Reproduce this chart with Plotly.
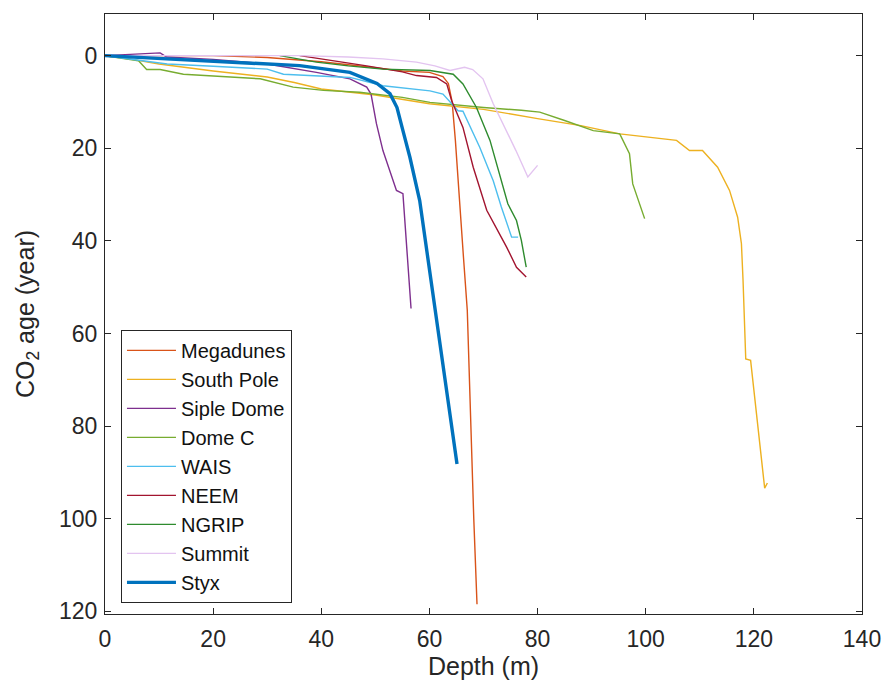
import plotly.graph_objects as go

# ---- data (depth m, CO2 age yr) ----
megadunes_depth = [0, 20, 30, 40, 50, 55, 60, 62.5, 63.5, 64.2, 64.8, 65.6, 66.3, 67.0, 67.5, 68.2, 68.8]
megadunes_age = [0, 0, 0.4, 1.3, 2.6, 3.3, 3.6, 4.5, 6.0, 10.0, 18.3, 32.8, 43.6, 55, 74.4, 100, 118.5]

southpole_depth = [0, 5, 10, 20, 30, 35, 40, 45, 50, 60, 70, 80, 88, 95.2, 105.7, 108.1, 110.5, 113.3, 115.5, 117.0, 117.7, 118.0, 118.5, 119.4, 122.0, 122.5]
southpole_age = [0, 0.8, 1.8, 3.3, 4.6, 5.8, 7.2, 7.8, 8.5, 10.4, 11.6, 13.6, 15.1, 16.9, 18.3, 20.5, 20.5, 24.1, 29.1, 34.9, 40.6, 48.5, 65.5, 65.8, 93.4, 92.3]

siple_depth = [0, 5, 10.2, 11.4, 20, 30, 39.1, 45.3, 48.4, 49.2, 50.2, 51.4, 53.9, 55.1, 55.6, 56.1, 56.6]
siple_age = [0, -0.3, -0.6, 0.3, 0.8, 1.8, 3.6, 5.0, 6.8, 8.3, 14.7, 20.5, 29.1, 29.8, 37.8, 45.0, 54.6]

domec_depth = [0, 6.2, 7.7, 10.2, 14.5, 28.7, 34.8, 40.4, 47.1, 55, 60.1, 70, 77, 80.4, 85, 88, 90.3, 95.2, 97.0, 97.6, 99.8]
domec_age = [0, 1.1, 3.0, 3.0, 4.0, 5.0, 6.8, 7.5, 7.9, 9.0, 10.1, 11.2, 11.8, 12.2, 14.0, 15.2, 16.2, 16.9, 21.2, 27.7, 35.2]

wais_depth = [0, 5, 11.5, 20, 30, 33, 45.3, 51.4, 60.1, 62.5, 65.3, 66.2, 69.3, 71.8, 73.3, 75.2, 76.4]
wais_age = [0, 0.8, 1.8, 2.3, 2.9, 4.0, 4.7, 6.5, 7.6, 8.3, 11.9, 12.0, 19.8, 27.0, 32.7, 39.2, 39.2]

neem_depth = [36, 42, 48.4, 55, 57.6, 61.3, 63.2, 64.1, 66.2, 68.1, 70.6, 74.3, 76.1, 77.9]
neem_age = [0, 1.0, 2.2, 3.5, 4.3, 4.7, 6.1, 9.7, 15.5, 24.1, 33.4, 41.4, 45.7, 47.8]

ngrip_depth = [32.3, 39.1, 45, 51.4, 60.1, 64.4, 66.2, 68.7, 71.2, 73.0, 74.5, 76.1, 77.0, 77.9]
ngrip_age = [0, 1.4, 2.2, 2.9, 3.2, 4.0, 6.1, 11.2, 18.3, 25.5, 32.0, 35.6, 39.9, 45.7]

summit_depth = [0, 20, 36, 45, 51.4, 57.6, 61, 63.8, 66.5, 68, 69.9, 71.8, 74.3, 76, 78.2, 80.0]
summit_age = [0, 0, 0, 0.3, 0.7, 1.4, 2.2, 3.2, 2.5, 3.0, 5.0, 10.4, 16.2, 20.5, 26.2, 23.7]

styx_depth = [0, 11.5, 23.7, 26.8, 36.0, 45.3, 50.3, 52.7, 54.0, 55.1, 56.4, 58.2, 63.4, 65.1]
styx_age = [0, 0.7, 1.45, 1.66, 2.16, 3.6, 6.0, 8.2, 11.2, 16.2, 22.0, 31.3, 74.4, 88.2]

x_ticks = [0, 20, 40, 60, 80, 100, 120, 140]
y_ticks = [0, 20, 40, 60, 80, 100, 120]

series = [
    ("Megadunes", megadunes_depth, megadunes_age, "#D95319", 1.4),
    ("South Pole", southpole_depth, southpole_age, "#EDB120", 1.4),
    ("Siple Dome", siple_depth, siple_age, "#7E2F8E", 1.4),
    ("Dome C", domec_depth, domec_age, "#77AC30", 1.4),
    ("WAIS", wais_depth, wais_age, "#4DBEEE", 1.4),
    ("NEEM", neem_depth, neem_age, "#A2142F", 1.4),
    ("NGRIP", ngrip_depth, ngrip_age, "#2E8B2E", 1.4),
    ("Summit", summit_depth, summit_age, "#E3C4F0", 1.4),
    ("Styx", styx_depth, styx_age, "#0072BD", 3.4),
]

fig = go.Figure()
for name, xs, ys, col, w in series:
    fig.add_trace(go.Scatter(x=xs, y=ys, mode="lines", name=name,
                             line=dict(color=col, width=w)))

axis_common = dict(showgrid=False, zeroline=False, showline=True, linecolor="#262626",
                   linewidth=1, mirror="ticks", ticks="inside", ticklen=6,
                   tickcolor="#262626", automargin=False,
                   tickfont=dict(size=23, color="#262626"))

# page body has an 8px margin, so the figure is offset by 8px
fig.update_layout(
    width=883, height=685,
    margin=dict(l=97, r=29, t=6, b=79),
    paper_bgcolor="white", plot_bgcolor="white",
    font=dict(family="Liberation Sans, Arial, sans-serif", color="#262626"),
    xaxis=dict(range=[0, 140], tickvals=x_ticks, ticklabelstandoff=4,
               title=dict(text="Depth (m)", font=dict(size=25), standoff=3), **axis_common),
    yaxis=dict(range=[120.6, -9], tickvals=y_ticks, ticklabelstandoff=2,
               title=dict(text="CO<sub>2</sub> age (year)", font=dict(size=25), standoff=17), **axis_common),
    legend=dict(x=0.0211, y=0.0185, xanchor="left", yanchor="bottom",
                bordercolor="#262626", borderwidth=1, bgcolor="white",
                font=dict(size=20, color="#111111"), itemwidth=49,
                tracegroupgap=0),
    showlegend=True,
)

fig.write_html("out.html")
